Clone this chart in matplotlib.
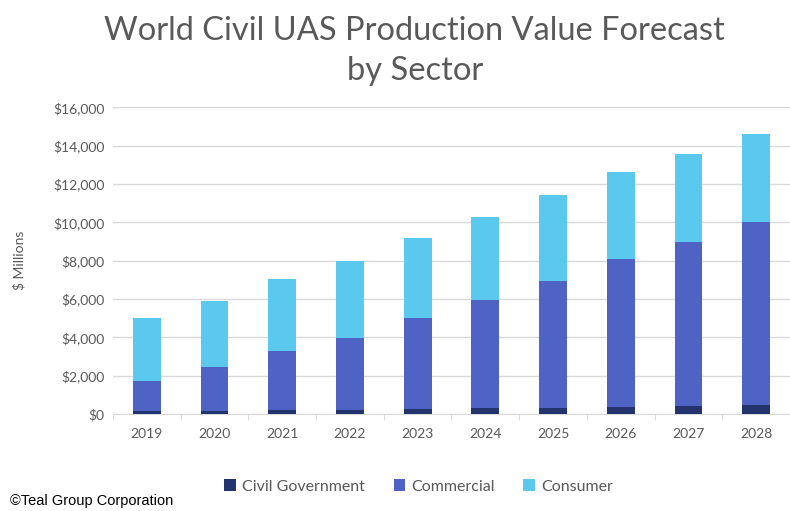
import numpy as np
import matplotlib
matplotlib.use("Agg")
import matplotlib.pyplot as plt

years = ['2019', '2020', '2021', '2022', '2023', '2024', '2025', '2026', '2027', '2028']
civil_gov = [130, 150, 200, 230, 280, 300, 330, 380, 400, 450]
commercial = [1590, 2300, 3080, 3730, 4720, 5640, 6600, 7700, 8560, 9550]
consumer = [3280, 3450, 3750, 4040, 4200, 4330, 4470, 4520, 4590, 4600]

plt.rcParams['font.family'] = ['Lato', 'DejaVu Sans']

fig = plt.figure(figsize=(7.9, 5.11), dpi=100)
ax = fig.add_axes([0.143, 0.19, 0.857, 0.60])

x = np.arange(len(years))
w = 0.41
c1 = np.array(civil_gov)
c2 = np.array(commercial)
c3 = np.array(consumer)
ax.bar(x, c1, w, color='#22336e', label='Civil Government', zorder=3)
ax.bar(x, c2, w, bottom=c1, color='#4f63c4', label='Commercial', zorder=3)
ax.bar(x, c3, w, bottom=c1 + c2, color='#5bc8ee', label='Consumer', zorder=3)

ax.set_xlim(-0.5, len(years) - 0.5)
ax.set_ylim(0, 16000)
ax.set_yticks(np.arange(0, 16001, 2000))
ax.set_yticklabels(['${:,}'.format(v) for v in range(0, 16001, 2000)])
ax.set_xticks(x)
ax.set_xticklabels(years)
ax.grid(axis='y', color='#d9d9d9', linewidth=1, zorder=0)
for s in ['top', 'right', 'left']:
    ax.spines[s].set_visible(False)
ax.spines['bottom'].set_color('#d9d9d9')
ax.tick_params(axis='y', length=0, colors='#595959', labelsize=10, pad=6)
ax.tick_params(axis='x', length=0, colors='#595959', labelsize=10, pad=10)
# small ticks between categories
ax.set_xticks(np.arange(-0.5, len(years), 1), minor=True)
ax.tick_params(axis='x', which='minor', length=4, color='#d9d9d9')
ax.set_ylabel('$ Millions', color='#595959', fontsize=10, labelpad=20)

fig.text(0.525, 0.94, 'World Civil UAS Production Value Forecast', ha='center', va='center',
         fontsize=23.5, color='#595959')
fig.text(0.525, 0.862, 'by Sector', ha='center', va='center', fontsize=23.5, color='#595959')

leg = fig.legend(loc='center', bbox_to_anchor=(0.53, 0.048), ncol=3, frameon=False,
                 fontsize=11.5, handlelength=0.7, handleheight=0.7, handletextpad=0.4,
                 columnspacing=1.8, labelcolor='#595959')

fig.text(0.013, 0.02, '\u00a9Teal Group Corporation', fontsize=10.5, color='black',
         family=['Liberation Sans', 'DejaVu Sans'], va='center')

fig.savefig('out.png', dpi=100, facecolor='white')
